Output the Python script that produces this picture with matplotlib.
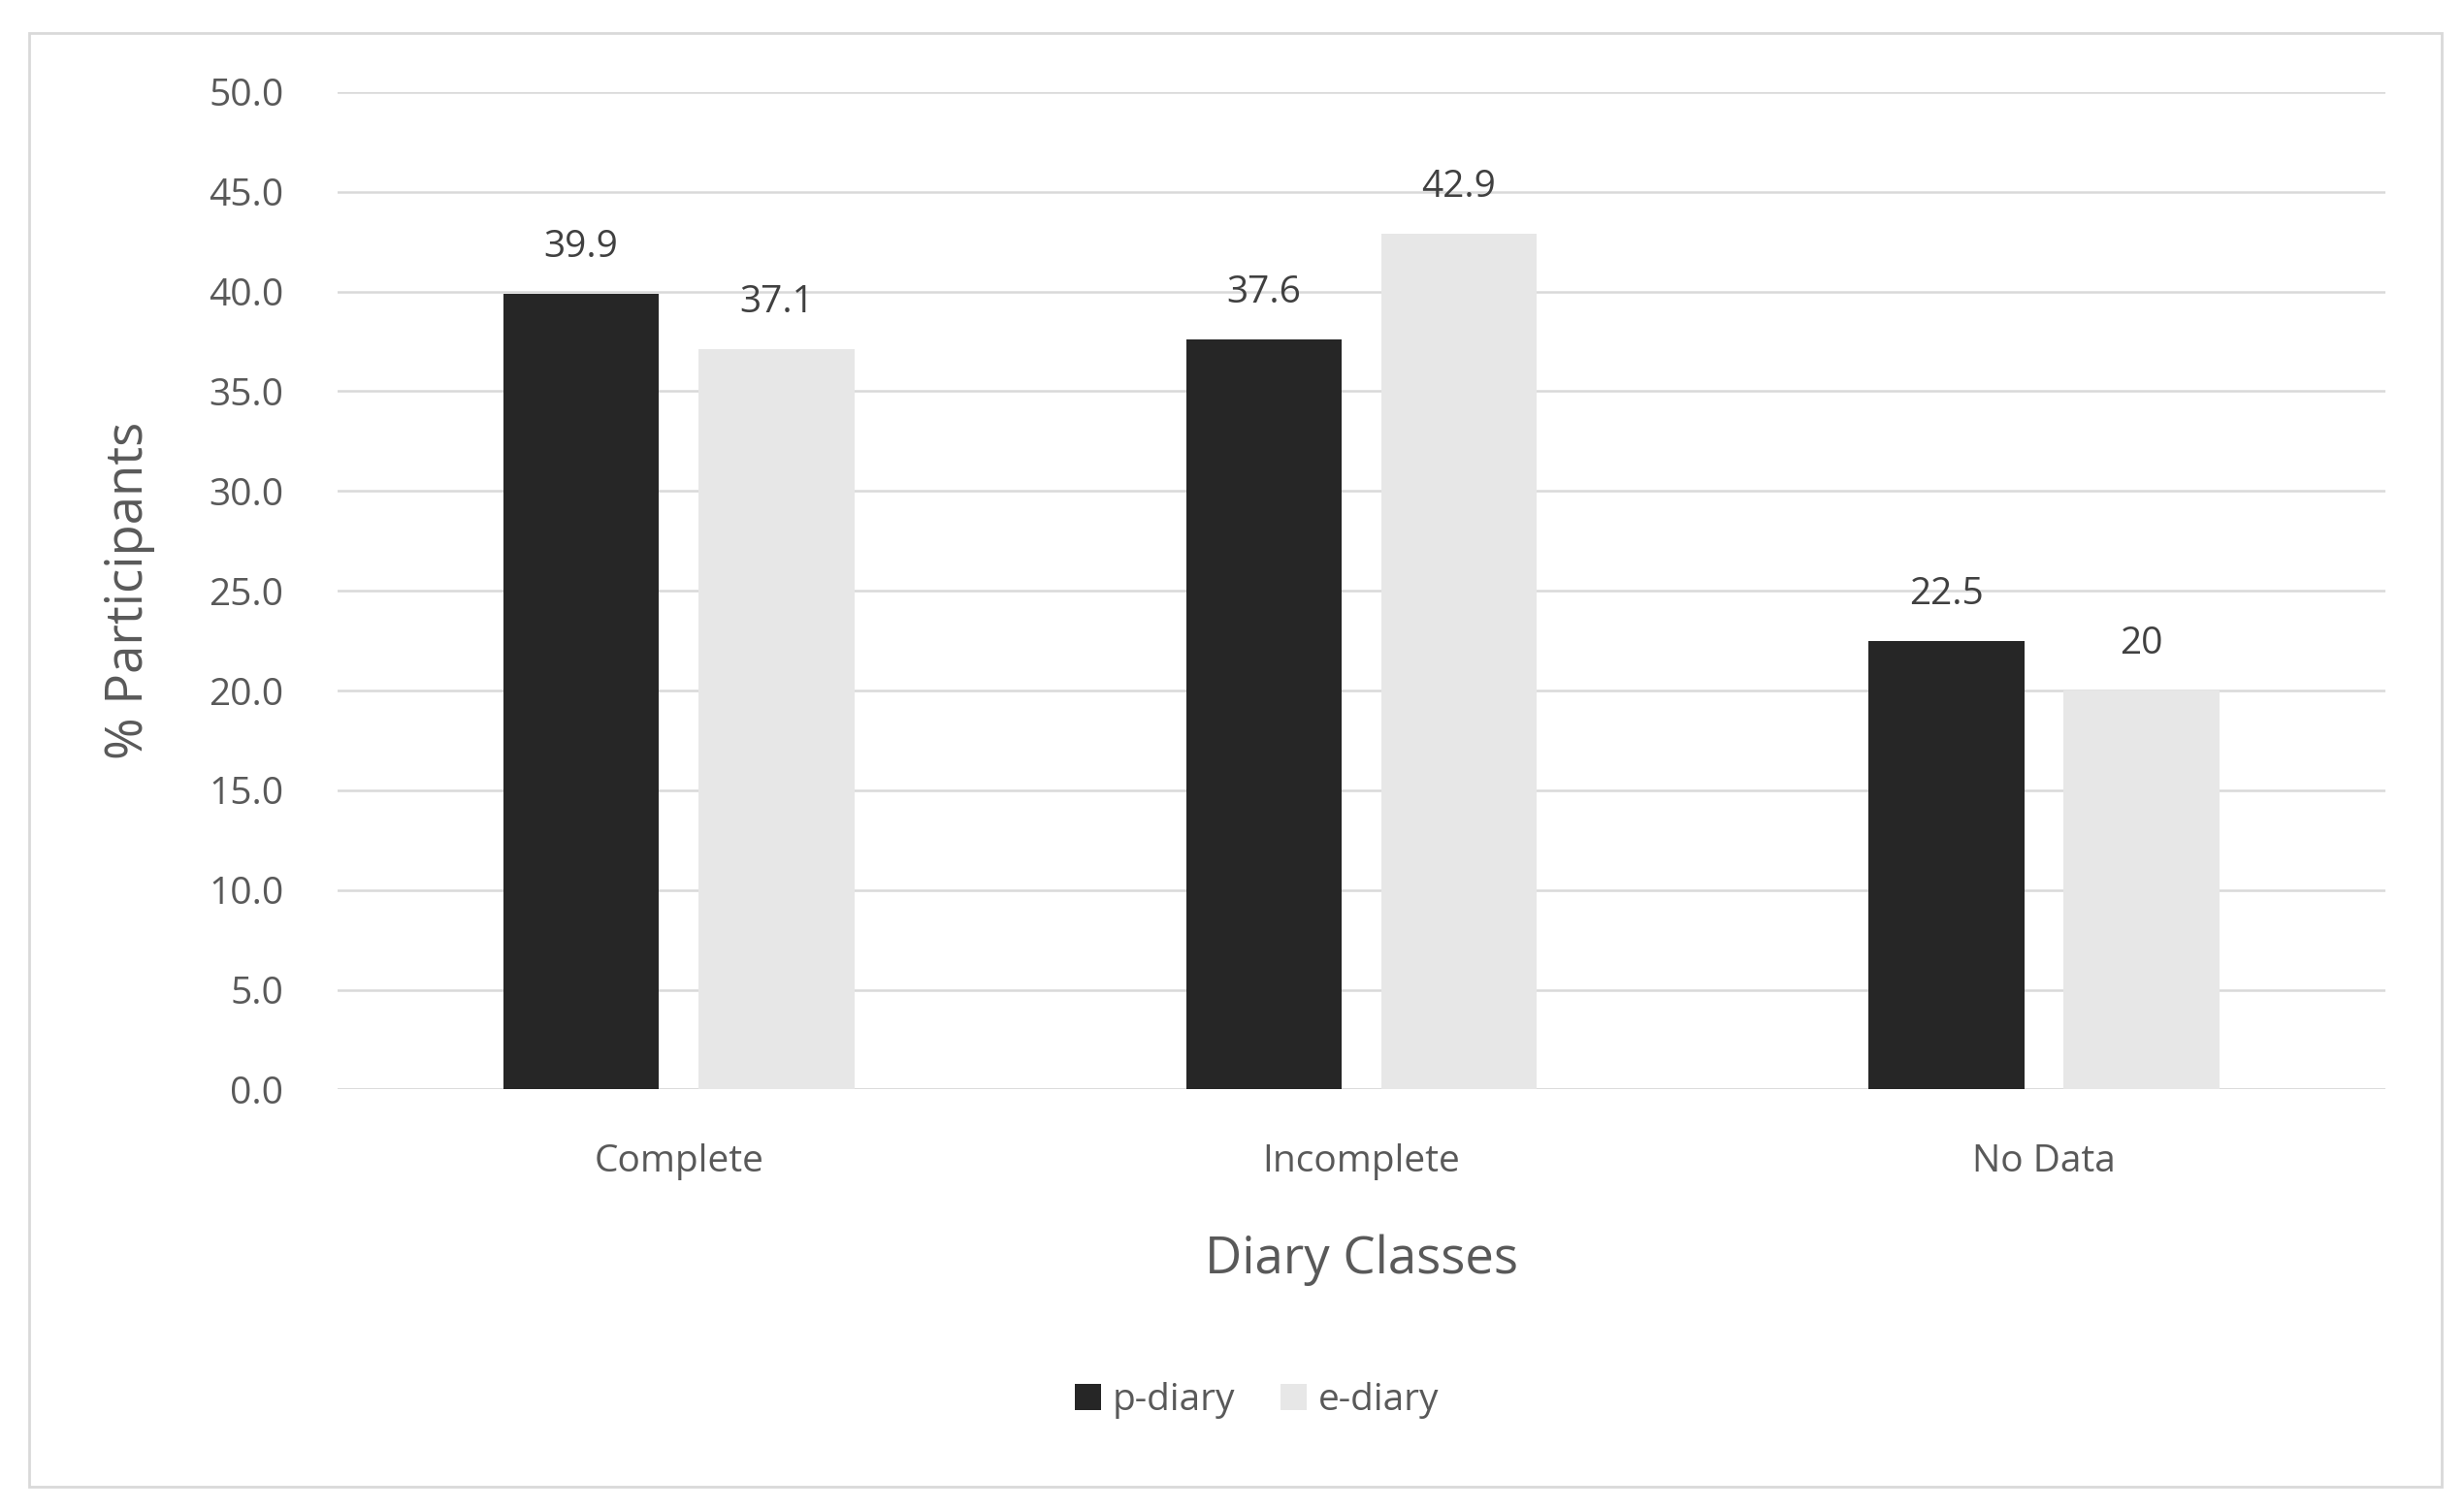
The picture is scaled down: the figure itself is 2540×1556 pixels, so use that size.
import numpy as np
import matplotlib
matplotlib.use("Agg")
import matplotlib.pyplot as plt
from matplotlib.patches import Rectangle

categories = ["Complete", "Incomplete", "No Data"]
p_diary = [39.9, 37.6, 22.5]
e_diary = [37.1, 42.9, 20]
p_labels = ["39.9", "37.6", "22.5"]
e_labels = ["37.1", "42.9", "20"]
yticks = [0, 5, 10, 15, 20, 25, 30, 35, 40, 45, 50]

plt.rcParams["font.family"] = ["Open Sans", "DejaVu Sans"]
TXT = "#595959"

fig = plt.figure(figsize=(25.4, 15.56), dpi=100)
fig.patches.append(Rectangle((0.012, 0.015), 0.979, 0.963, transform=fig.transFigure,
                             fill=False, edgecolor="#d9d9d9", linewidth=2))
ax = fig.add_axes([0.137, 0.278, 0.831, 0.661])

x = np.arange(len(categories))
w = 0.228
off = 0.143
b1 = ax.bar(x - off, p_diary, w, color="#262626", label="p-diary", zorder=3)
b2 = ax.bar(x + off, e_diary, w, color="#e7e7e7", label="e-diary", zorder=3)
for bars, labs in ((b1, p_labels), (b2, e_labels)):
    for b, lab in zip(bars, labs):
        ax.text(b.get_x() + b.get_width() / 2, b.get_height() + 1.4, lab,
                ha="center", va="bottom", fontsize=28, color="#404040")

ax.set_xlim(-0.5, 2.5)
ax.set_ylim(0, 50)
ax.set_yticks(yticks)
ax.set_yticklabels([f"{v:.1f}" for v in yticks])
ax.set_xticks(x)
ax.set_xticklabels(categories)
ax.tick_params(axis="both", length=0, labelsize=28, labelcolor=TXT)
ax.tick_params(axis="x", pad=40)
ax.tick_params(axis="y", pad=40)
ax.grid(axis="y", color="#d9d9d9", linewidth=1.8, zorder=0)
for s in ax.spines.values():
    s.set_visible(False)
ax.axhline(0, color="#d9d9d9", linewidth=1.8, zorder=2)

ax.set_ylabel("% Participants", fontsize=38, color=TXT, labelpad=40)
ax.set_xlabel("Diary Classes", fontsize=38, color=TXT, labelpad=40)

fig.legend(loc="center", bbox_to_anchor=(0.51, 0.072), ncol=2, frameon=False,
           fontsize=28, labelcolor=TXT, handlelength=0.7, handleheight=0.7,
           handletextpad=0.3, columnspacing=1.2)

fig.savefig("out.png", dpi=100)
